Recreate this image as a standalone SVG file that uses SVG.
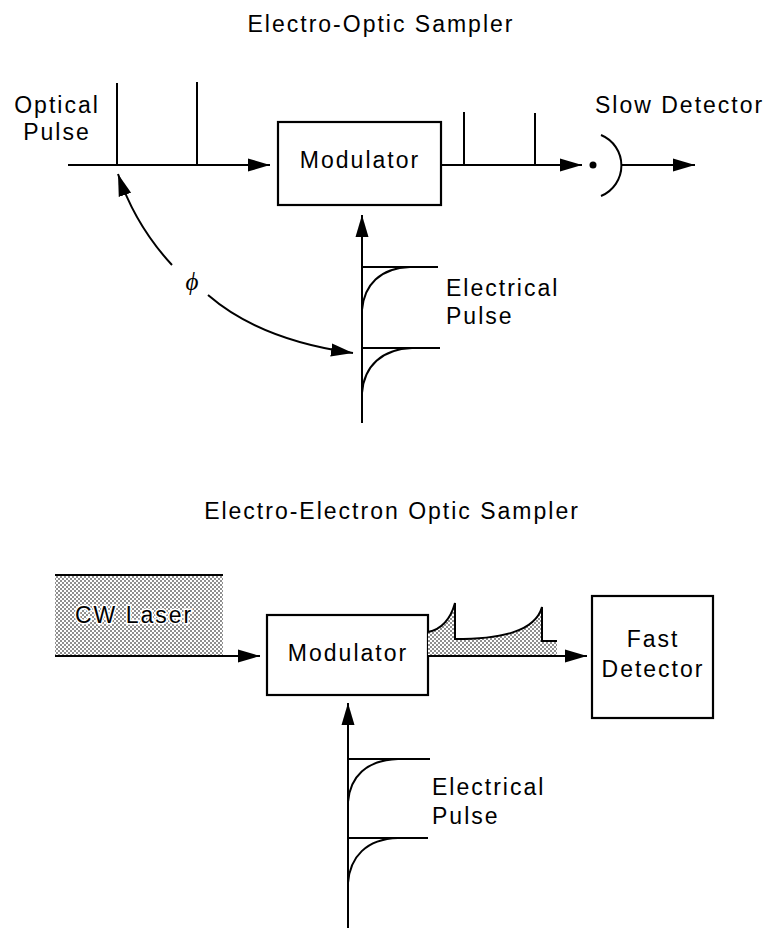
<svg xmlns="http://www.w3.org/2000/svg" width="775" height="935" viewBox="0 0 775 935">
<style>
  text { font-family: "Liberation Sans", Arial, sans-serif; font-size: 23px; letter-spacing: 2px; fill: #000; }
  .ln { fill: none; stroke: #000; stroke-width: 2; }
  .box { fill: #fff; stroke: #000; stroke-width: 2.2; }
  .arr { fill: none; stroke: #000; stroke-width: 2; marker-end: url(#ah); }
  .mid { text-anchor: middle; }
</style>
<defs>
  <marker id="ah" markerUnits="userSpaceOnUse" markerWidth="24" markerHeight="14" refX="22" refY="7" orient="auto">
    <path d="M0,0.5 L22,7 L0,13.5 Z" fill="#000"/>
  </marker>
  <pattern id="dots" patternUnits="userSpaceOnUse" width="4" height="4">
    <rect width="4" height="4" fill="#fff"/>
    <circle cx="1" cy="1" r="0.8" fill="#000"/>
    <circle cx="3" cy="3" r="0.8" fill="#000"/>
  </pattern>
</defs>
<rect width="775" height="935" fill="#fff"/>

<!-- Top: Electro-Optic Sampler -->
<text id="title1" x="381" y="32" class="mid">Electro-Optic Sampler</text>

<g id="optical-pulse">
  <text x="57" y="113" class="mid">Optical</text>
  <text x="57" y="140" class="mid">Pulse</text>
  <path class="ln" d="M117,83 L117,165 M197,82 L197,165"/>
</g>

<g id="modulator1">
  <rect class="box" x="278" y="122" width="163" height="83"/>
  <text x="360" y="168" class="mid">Modulator</text>
</g>

<g id="output-pulses1">
  <path class="ln" d="M464,112 L464,165 M535,113 L535,165"/>
</g>

<g id="slow-detector">
  <circle cx="593" cy="165" r="3.5" fill="#000"/>
  <path class="ln" d="M601,135 A33,33 0 0 1 601,196"/>
  <text x="595" y="113">Slow Detector</text>
</g>

<g id="electrical-pulse1">
  <path class="ln" d="M362,267 L438,267 M362,348 L440,348"/>
  <path class="ln" d="M362,310 C364,285 380,268 410,267 M362,393 C364,366 382,349 412,348"/>
  <text x="446" y="296">Electrical</text>
  <text x="446" y="324">Pulse</text>
</g>

<g id="phi-label">
  <text x="192" y="290" class="mid" style="font-family:'Liberation Serif',serif;font-style:italic;font-size:25px;letter-spacing:0">ϕ</text>
</g>

<!-- Bottom: Electro-Electron Optic Sampler -->
<text id="title2" x="392" y="519" class="mid">Electro-Electron Optic Sampler</text>

<g id="cw-laser">
  <rect x="55" y="575" width="168" height="81" fill="url(#dots)"/>
  <path class="ln" d="M55,575 L223,575"/>
  <text x="75" y="623" style="stroke:#fff;stroke-width:3;paint-order:stroke">CW Laser</text>
</g>

<g id="modulator2">
  <rect class="box" x="267" y="615" width="161" height="80"/>
  <text x="348" y="661" class="mid">Modulator</text>
</g>

<g id="output-waveform">
  <path d="M428,632 Q448,628 455,603 L455,639 C500,639 535,632 542,607 L542,641 L557,641 L557,656 L428,656 Z" fill="url(#dots)"/>
  <path class="ln" d="M428,632 Q448,628 455,603 L455,639 C500,639 535,632 542,607 L542,641 L557,641"/>
</g>

<g id="fast-detector">
  <rect class="box" x="592" y="596" width="121" height="122"/>
  <text x="653" y="647" class="mid">Fast</text>
  <text x="653" y="677" class="mid">Detector</text>
</g>

<g id="electrical-pulse2">
  <path class="ln" d="M348,759 L430,759 M348,838 L428,838"/>
  <path class="ln" d="M348,802 C350,777 366,760 398,759 M348,883 C350,857 366,839 398,838"/>
  <text x="432" y="795">Electrical</text>
  <text x="432" y="824">Pulse</text>
</g>

<g id="connectors">
  <path class="arr" d="M68,165 L270,165"/>
  <path class="arr" d="M441,165 L582,165"/>
  <path class="arr" d="M622,165 L695,165"/>
  <path class="arr" d="M362,423 L362,215"/>
  <path class="arr" d="M172,265 Q135,225 118,174"/>
  <path class="arr" d="M208,295 Q260,340 353,353"/>
  <path class="arr" d="M55,656 L260,656"/>
  <path class="arr" d="M428,656 L587,656"/>
  <path class="arr" d="M348,928 L348,703"/>
</g>
</svg>
